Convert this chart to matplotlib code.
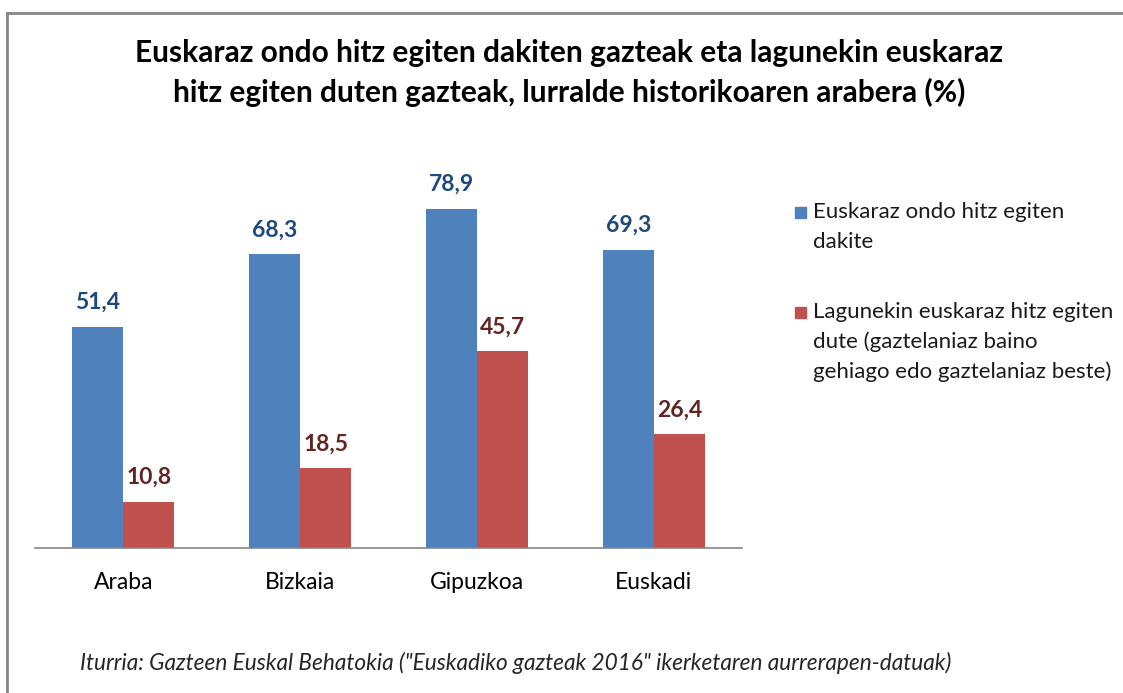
import matplotlib.pyplot as plt
import numpy as np

# --- Data ---
lurraldeak = ["Araba", "Bizkaia", "Gipuzkoa", "Euskadi"]
ondo_dakite = [51.4, 68.3, 78.9, 69.3]
lagunekin = [10.8, 18.5, 45.7, 26.4]
serie_izenak = ["Euskaraz ondo hitz egiten\ndakite",
                "Lagunekin euskaraz hitz egiten\ndute (gaztelaniaz baino\ngehiago edo gaztelaniaz beste)"]

plt.rcParams['font.family'] = ['Lato', 'DejaVu Sans']

blue, red = "#4F81BD", "#C0504D"
blue_txt, red_txt = "#1F497D", "#632523"

W, H = 1123, 693
fig = plt.figure(figsize=(W / 100, H / 100), dpi=100)
ax = fig.add_axes([0.031, 0.2092, 0.630, 0.5585])

x = np.arange(len(lurraldeak))
w = 0.288
b1 = ax.bar(x - w / 2, ondo_dakite, w, color=blue)
b2 = ax.bar(x + w / 2, lagunekin, w, color=red)

def fmt(v):
    return f"{v:.1f}".replace(".", ",")

for bars, vals, col in [(b1, ondo_dakite, blue_txt), (b2, lagunekin, red_txt)]:
    for rect, v in zip(bars, vals):
        ax.annotate(fmt(v), (rect.get_x() + rect.get_width() / 2, v), xytext=(0, 10),
                    textcoords="offset points", ha="center", va="bottom",
                    fontsize=16.5, fontweight="bold", color=col)

ax.set_xlim(-0.5, 3.5)
ax.set_ylim(0, 90)
ax.set_xticks(x)
ax.set_xticklabels(lurraldeak, fontsize=16.5)
ax.tick_params(axis="x", length=0, pad=17)
ax.set_yticks([])
for s in ["top", "right", "left"]:
    ax.spines[s].set_visible(False)
ax.spines["bottom"].set_color("#868686")
ax.spines["bottom"].set_linewidth(1.2)

# Legenda eskuz: laukia lehen lerroarekin lerrokatuta
leg_x, sq = 795, 11
first_line_y = [212, 312]
for name, col, y0 in zip(serie_izenak, [blue, red], first_line_y):
    fig.patches.append(plt.Rectangle(((leg_x) / W, 1 - (y0 + sq / 2) / H), sq / W, sq / H,
                                     color=col, transform=fig.transFigure, figure=fig))
    for j, line in enumerate(name.split("\n")):
        fig.text(813 / W, 1 - (y0 + 30 * j) / H, line, ha="left", va="center",
                 fontsize=16, color="#1a1a1a")

fig.text(0.507, 0.894,
         "Euskaraz ondo hitz egiten dakiten gazteak eta lagunekin euskaraz\n"
         "hitz egiten duten gazteak, lurralde historikoaren arabera (%)",
         ha="center", va="center", fontsize=21.5, fontweight="bold", linespacing=1.45)

fig.text(0.071, 0.043,
         'Iturria: Gazteen Euskal Behatokia ("Euskadiko gazteak 2016" ikerketaren aurrerapen-datuak)',
         ha="left", va="center", fontsize=16.3, style="italic", color="#262626")

# Marko grisa (goiko eta ezkerreko ertzak)
y_top = 1 - 13 / H
x_left = 7 / W
fig.add_artist(plt.Line2D([x_left, 1], [y_top, y_top], color="#868686", lw=2,
                          transform=fig.transFigure))
fig.add_artist(plt.Line2D([x_left, x_left], [0, y_top], color="#868686", lw=2,
                          transform=fig.transFigure))

fig.savefig("out.png", dpi=100)
plt.close()
